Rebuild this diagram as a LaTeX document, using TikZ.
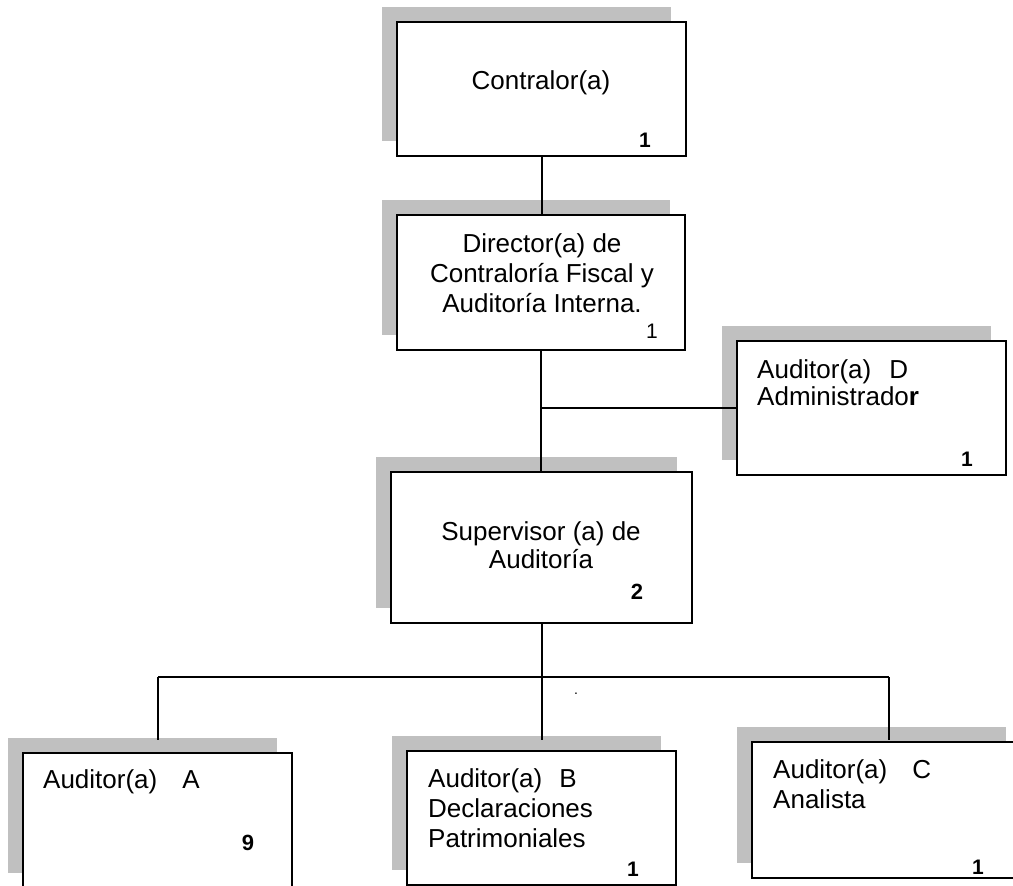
\documentclass[tikz,border=0pt]{standalone}
\usepackage{fontspec}
\setmainfont{Liberation Sans}
\definecolor{shadowgray}{HTML}{C0C0C0}

% one unit of the organisation chart: a grey offset shadow and a white framed box
\newcommand\orgunit[5]{% name, left, top, right, bottom
  \node[shadow, minimum width={#4-#2}, minimum height={#5-#3}]
    (#1-sh) at ({(#2+#4)/2-15.5},{(#3+#5)/2-15.5}) {};
  \node[orgbox, minimum width={#4-#2}, minimum height={#5-#3}]
    (#1) at ({(#2+#4)/2},{(#3+#5)/2}) {};
}

\begin{document}
\begin{tikzpicture}[x=1pt,y=-1pt,
  shadow/.style={fill=shadowgray, draw=none, inner sep=0pt, outer sep=0pt},
  orgbox/.style={draw=black, fill=white, line width=2pt, inner sep=0pt, outer sep=0pt},
  link/.style={line width=2pt},
  title/.style={font=\fontsize{26}{30}\selectfont, inner sep=0pt, anchor=base},
  titleleft/.style={title, anchor=base west, align=left},
  count/.style={font=\fontsize{21}{24}\selectfont\bfseries, inner sep=0pt, anchor=base},
]
\useasboundingbox (0,0) rectangle (1013,886);
\clip (0,0) rectangle (1013,886);

% boxes
\orgunit{contralor}{397}{22}{686}{156}
\orgunit{director}{397}{215}{685}{350}
\orgunit{auditorD}{737}{341}{1006}{475}
\orgunit{supervisor}{391}{472}{692}{623}
\orgunit{auditorA}{23}{753}{292}{888}
\orgunit{auditorB}{407}{751}{676}{885}
\orgunit{auditorC}{752}{742}{1021}{878}

% junctions of the connectors
\coordinate (jD) at (542,408);
\coordinate (barL) at (158,677);
\coordinate (barR) at (889,677);
\coordinate (bar) at (supervisor.south |- barL);
\coordinate (tA) at (158,740);
\coordinate (tB) at (bar |- tA);
\coordinate (tC) at (889,740);

% connectors
\draw[link] (contralor.south) -- (contralor.south |- director.north);
\draw[link] (director.south) -- (director.south |- supervisor.north);
\draw[link] (jD) -- (jD -| auditorD.west);
\draw[link] (supervisor.south) -- (bar);
\draw[link] (barL) -- (barR);
\draw[link] (barL) -- (tA);
\draw[link] (bar) -- (tB);
\draw[link] (barR) -- (tC);

% texts (multi-line texts are placed by the baseline of their last line)
\node[title] (t-contralor) at (541,89) {Contralor(a)};
\node[count] (n-contralor) at (645,147) {1};

\node[title, align=center] (t-director) at (542,312)
  {Director(a) de\\Contraloría Fiscal y\\Auditoría Interna.};
\node[count, font=\fontsize{21}{24}\selectfont\mdseries] (n-director) at (652,338) {1};

\node[titleleft, font=\fontsize{26}{27}\selectfont] (t-auditorD) at (757,405)
  {Auditor(a)\hspace{18pt}D\\Administrado\textbf{r}};
\node[count] (n-auditorD) at (967,466) {1};

\node[title, align=center, font=\fontsize{26}{28}\selectfont] (t-supervisor) at (541,568)
  {Supervisor (a) de\\Auditoría};
\node[count, font=\fontsize{22}{24}\selectfont\bfseries] (n-supervisor) at (637,599) {2};

\node[titleleft] (t-auditorA) at (43,788) {Auditor(a)\hspace{25pt}A};
\node[count, font=\fontsize{22}{24}\selectfont\bfseries] (n-auditorA) at (248,850) {9};

\node[titleleft] (t-auditorB) at (428,847)
  {Auditor(a)\hspace{17pt}B\\Declaraciones\\Patrimoniales};
\node[count] (n-auditorB) at (633,876) {1};

\node[titleleft] (t-auditorC) at (773,808) {Auditor(a)\hspace{25pt}C\\Analista};
\node[count] (n-auditorC) at (978,874) {1};

\node[title, font=\fontsize{14}{16}\selectfont] (dot) at (576,694) {.};
\end{tikzpicture}
\end{document}
